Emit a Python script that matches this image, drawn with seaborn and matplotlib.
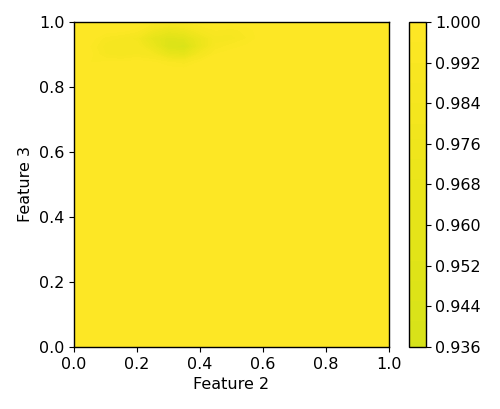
import numpy as np
import matplotlib
matplotlib.use("Agg")
import matplotlib.pyplot as plt
import seaborn as sns

# grid coordinates
feature2 = [0.0, 0.05, 0.1, 0.15, 0.2, 0.25, 0.3, 0.35, 0.4, 0.45, 0.5, 0.55, 0.6,
            0.65, 0.7, 0.75, 0.8, 0.85, 0.9, 0.95, 1.0]
feature3 = [0.0, 0.8, 0.85, 0.875, 0.9, 0.925, 0.95, 0.975, 1.0]

base = 0.999
# values, one row per feature3 value (first 13 columns, x = 0 .. 0.6)
rows_left = [
    [base] * 13,                                                                     # 0.0
    [base] * 13,                                                                     # 0.8
    [base] * 13,                                                                     # 0.85
    [base, 0.996, 0.997, 0.997, base, 0.997, 0.993, 0.990, 0.997, base, base, base, base],  # 0.875
    [base, 0.998, 0.988, 0.985, 0.988, 0.984, 0.966, 0.962, 0.984, 0.996, base, base, base],  # 0.9
    [base, 0.996, 0.986, 0.985, 0.987, 0.970, 0.946, 0.942, 0.970, 0.989, 0.994, 0.997, base],  # 0.925
    [base, base, 0.990, 0.987, 0.982, 0.962, 0.950, 0.954, 0.972, 0.986, 0.986, 0.992, base],  # 0.95
    [base, base, base, 0.998, 0.994, 0.978, 0.968, 0.974, 0.986, 0.992, 0.990, 0.994, base],  # 0.975
    [base, base, base, base, base, 0.994, 0.990, 0.992, 0.996, base, base, base, base],  # 1.0
]
values = np.array([r + [base] * (len(feature2) - len(r)) for r in rows_left])

levels = np.linspace(0.936, 1.0, 65)
cbar_ticks = [0.936, 0.944, 0.952, 0.960, 0.968, 0.976, 0.984, 0.992, 1.000]

sns.set_style("ticks", {"axes.edgecolor": "black", "xtick.color": "black",
                        "ytick.color": "black", "text.color": "black",
                        "axes.labelcolor": "black"})
plt.rcParams["font.family"] = ["DejaVu Sans"]
plt.rcParams["font.size"] = 11.5

cmap = sns.color_palette("viridis", as_cmap=True)

fig = plt.figure(figsize=(5, 4.09), dpi=100)
ax = fig.add_axes([0.148, 0.152, 0.630, 0.794])
cax = fig.add_axes([0.818, 0.152, 0.033, 0.794])

cs = ax.contourf(feature2, feature3, values, levels=levels, cmap=cmap, vmin=0, vmax=1)
ax.set_xlim(0, 1)
ax.set_ylim(0, 1)
ax.set_xlabel("Feature 2", labelpad=4)
ax.set_ylabel("Feature 3", labelpad=4)
for s in ax.spines.values():
    s.set_linewidth(1.0)

cb = fig.colorbar(cs, cax=cax, ticks=cbar_ticks)
cb.ax.set_yticklabels([f"{t:.3f}" for t in cbar_ticks])
cb.outline.set_linewidth(1.0)

fig.savefig("out.png", dpi=100)
